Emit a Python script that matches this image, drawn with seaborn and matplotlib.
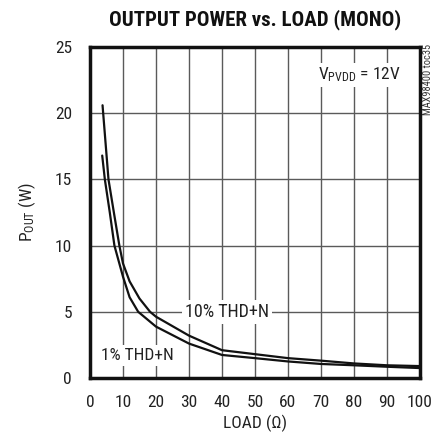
import matplotlib
matplotlib.use("Agg")
import matplotlib.pyplot as plt
import seaborn as sns
import pandas as pd

# Data
load_10 = [3.8, 5.6, 7.3, 8.9, 10, 12, 15, 18.2, 20, 30, 40, 50, 60, 70, 80, 90, 100]
pout_10 = [20.6, 15.0, 12.4, 10.0, 8.65, 7.3, 6.0, 5.0, 4.63, 3.2, 2.1, 1.8, 1.5, 1.31, 1.1, 0.96, 0.9]
load_1 = [3.7, 4.5, 6.0, 7.4, 10, 12, 14.6, 20, 30, 40, 50, 60, 70, 80, 90, 100]
pout_1 = [16.8, 15.0, 12.5, 10.0, 7.65, 6.1, 5.0, 3.88, 2.6, 1.74, 1.5, 1.25, 1.06, 0.96, 0.85, 0.75]
series_names = ["10% THD+N", "1% THD+N"]
x_ticks = list(range(0, 101, 10))
y_ticks = list(range(0, 26, 5))

df = pd.concat([
    pd.DataFrame({"load": load_10, "pout": pout_10, "series": series_names[0]}),
    pd.DataFrame({"load": load_1, "pout": pout_1, "series": series_names[1]}),
])

sns.set_theme(style="white")
FAM = ['Roboto Condensed', 'Archivo Narrow', 'Liberation Sans Narrow', 'DejaVu Sans']
plt.rcParams['font.family'] = FAM
plt.rcParams['mathtext.fontset'] = 'custom'
plt.rcParams['mathtext.rm'] = 'Roboto Condensed'
plt.rcParams['mathtext.default'] = 'regular'

fig = plt.figure(figsize=(4.35, 4.38), dpi=100)
ax = fig.add_axes([90/435, 1-378/438, 330/435, 331/438])

sns.lineplot(data=df, x="load", y="pout", hue="series", palette=["#111111", "#111111"],
             linewidth=1.6, legend=False, ax=ax, sort=False, zorder=5)

ax.set_xlim(0, 100)
ax.set_ylim(0, 25)
ax.set_xticks(x_ticks)
ax.set_yticks(y_ticks)
ax.grid(True, color="#5a5a5a", linewidth=1.0)
ax.tick_params(axis="x", length=0, labelsize=12.5, colors="#222222", pad=12)
ax.tick_params(axis="y", length=0, labelsize=12.5, colors="#222222", pad=13)
for s in ax.spines.values():
    s.set_linewidth(2.5)
    s.set_color("#111111")
    s.set_zorder(6)

ax.set_xlabel("LOAD (\u03a9)", fontsize=12.5, color="#222222", labelpad=4)
ax.set_ylabel(r"P$_{OUT}$ (W)", fontsize=12.5, color="#222222", labelpad=12)

fig.text(255/435, 1-20/438, "OUTPUT POWER vs. LOAD (MONO)", ha="center", va="center",
         fontsize=15, fontweight="bold", color="#111111")

bbox = dict(facecolor="white", edgecolor="none", pad=2)
ax.text(41.5, 5, "10% THD+N", ha="center", va="center", fontsize=13, color="#222222", bbox=bbox, zorder=4)
ax.text(3.2, 1.7, "1% THD+N", ha="left", va="center", fontsize=12.5, color="#222222", bbox=bbox, zorder=4)
ax.text(94, 22.9, r"V$_{PVDD}$ = 12V", ha="right", va="center", fontsize=12.5, color="#222222", bbox=bbox, zorder=4)

fig.text(428/435, 1-79/438, "MAX98400 toc35", rotation=90, ha="center", va="center",
         fontsize=7.5, color="#333333")

fig.savefig("out.png", dpi=100)
